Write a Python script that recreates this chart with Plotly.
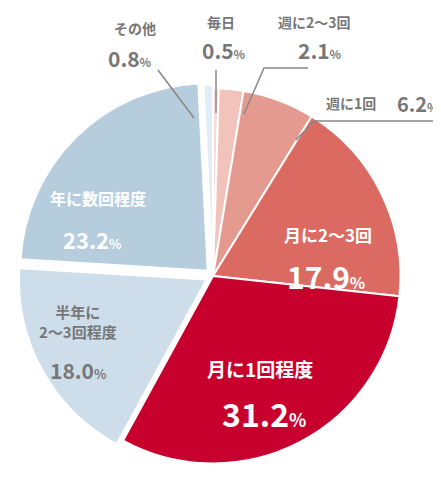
import plotly.graph_objects as go

labels = ["毎日", "週に2〜3回", "週に1回", "月に2〜3回", "月に1回程度", "半年に2〜3回程度", "年に数回程度", "その他"]
values = [0.5, 2.1, 6.2, 17.9, 31.2, 18.0, 23.2, 0.8]
colors = ["#f6dcd8", "#f2c3bb", "#e59a8f", "#db6b62", "#c8002d", "#cddde9", "#b6cddd", "#e2ecf4"]
pulls = [0, 0, 0, 0, 0, 0.04, 0.04, 0.02]

W, H = 441, 478
def px(x): return x / W
def py(y): return 1 - y / H

fig = go.Figure(go.Pie(
    labels=labels, values=values, sort=False, direction="clockwise", rotation=0,
    marker=dict(colors=colors, line=dict(color="white", width=2)),
    textinfo="none", hoverinfo="label+percent", pull=pulls,
    domain=dict(x=[px(10), px(400)], y=[py(464), py(72)]),
))

FONT = "Noto Sans CJK JP"
anns = [
    ("その他", 127, 20, 14, "#777"), ("0.8<span style='font-size:12px'>%</span>", 122, 50, 21, "#777"),
    ("毎日", 213, 14, 14, "#777"), ("0.5<span style='font-size:12px'>%</span>", 216, 42, 21, "#777"),
    ("週に2〜3回", 306, 14, 14, "#777"), ("2.1<span style='font-size:12px'>%</span>", 312, 42, 21, "#777"),
    ("週に1回", 343, 95, 14, "#777"), ("6.2<span style='font-size:12px'>%</span>", 410, 95, 20, "#777"),
    ("月に2〜3回", 320, 226, 17, "white"), ("17.9<span style='font-size:16px'>%</span>", 318, 268, 30, "white"),
    ("月に1回程度", 252, 360, 19, "white"), ("31.2<span style='font-size:18px'>%</span>", 256, 405, 32, "white"),
    ("半年に<br>2〜3回程度", 70, 313, 15, "#777"), ("18.0<span style='font-size:13px'>%</span>", 70, 362, 21, "#777"),
    ("年に数回程度", 90, 190, 16, "white"), ("23.2<span style='font-size:13px'>%</span>", 84, 231, 22, "white"),
]
fig.update_layout(
    width=W, height=H, margin=dict(l=0, r=0, t=0, b=0), showlegend=False,
    paper_bgcolor="white", font=dict(family=FONT),
    annotations=[dict(text=f"<b>{t}</b>", x=px(x), y=py(y), xref="paper", yref="paper", showarrow=False,
                      font=dict(size=s, color=c, family=FONT), xanchor="center", yanchor="middle")
                 for t, x, y, s, c in anns],
    shapes=[
        dict(type="path", path=f"M {px(208)} {py(62)} L {px(208)} {py(105)}", xref="paper", yref="paper", line=dict(color="#888", width=1.5)),
        dict(type="path", path=f"M {px(236)} {py(106)} L {px(256)} {py(60)} L {px(300)} {py(60)}", xref="paper", yref="paper", line=dict(color="#888", width=1.5)),
        dict(type="path", path=f"M {px(288)} {py(132)} L {px(306)} {py(113)} L {px(432)} {py(113)}", xref="paper", yref="paper", line=dict(color="#888", width=1.5)),
        dict(type="path", path=f"M {px(150)} {py(62)} L {px(186)} {py(110)}", xref="paper", yref="paper", line=dict(color="#888", width=1.5)),
    ],
)
fig.write_html("out.html")
